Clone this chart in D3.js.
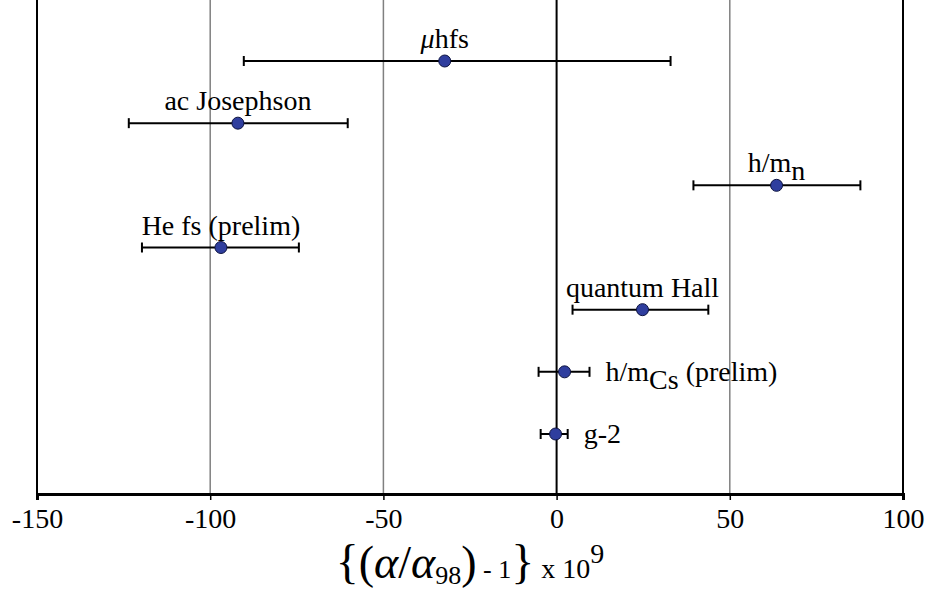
<!doctype html>
<html>
<head>
<meta charset="utf-8">
<script src="https://cdnjs.cloudflare.com/ajax/libs/d3/7.8.5/d3.min.js"></script>
<style>
  html, body { margin: 0; padding: 0; background: #fff; }
</style>
</head>
<body>
<div id="viz"></div>
<script>
// measurements, top to bottom
var labels = ["μhfs", "ac Josephson", "h/m_n", "He fs (prelim)", "quantum Hall", "h/m_Cs (prelim)", "g-2"];
var centers = [-32.3, -92.0, 63.5, -96.9, 24.8, 2.3, -0.3];
var lows    = [-90.3, -123.5, 39.5, -119.7, 4.6, -5.2, -4.6];
var highs   = [32.9, -60.3, 87.7, -74.4, 43.8, 9.5, 3.2];
var labelSide = ["top", "top", "top", "top", "top", "right", "right"];
var xTicks = [-150, -100, -50, 0, 50, 100];

var SERIF = "'Liberation Serif'";
var W = 925, H = 590;
var svg = d3.select("#viz").append("svg").attr("width", W).attr("height", H);

var x = d3.scaleLinear().domain([-150, 100]).range([37, 903]);
var y = d3.scaleLinear().domain([0, 6]).range([61, 434]);
var axisY = 494;

// gridlines
svg.selectAll("line.grid")
    .data([-100, -50, 50])
    .enter().append("line")
    .attr("x1", function (d) { return x(d); })
    .attr("x2", function (d) { return x(d); })
    .attr("y1", 0).attr("y2", axisY)
    .attr("stroke", "#808080").attr("stroke-width", 1.5);

// zero line and side borders
[0, -150, 100].forEach(function (v) {
    svg.append("line")
        .attr("x1", x(v)).attr("x2", x(v))
        .attr("y1", 0).attr("y2", axisY)
        .attr("stroke", "#000").attr("stroke-width", 2);
});

// x axis
var axis = d3.axisBottom(x).tickValues(xTicks).tickSize(6).tickPadding(7)
    .tickFormat(d3.format("d"));
var gx = svg.append("g").attr("transform", "translate(0," + axisY + ")").call(axis);
gx.select(".domain").attr("stroke", "#000").attr("stroke-width", 3);
gx.selectAll(".tick line").attr("stroke", "#000").attr("stroke-width", 1.5);
gx.selectAll(".tick text")
    .style("font-family", SERIF).style("font-size", "28px")
    .attr("fill", "#000").attr("dy", "0.75em")
    .text(function (d) { return d < 0 ? "-" + Math.abs(d) : d; });

// error bars
var rows = svg.selectAll("g.row")
    .data(labels.map(function (l, i) { return i; }))
    .enter().append("g").attr("class", "row");

rows.append("line")
    .attr("x1", function (i) { return x(lows[i]); })
    .attr("x2", function (i) { return x(highs[i]); })
    .attr("y1", function (i) { return y(i); })
    .attr("y2", function (i) { return y(i); })
    .attr("stroke", "#000").attr("stroke-width", 2);

[lows, highs].forEach(function (arr) {
    rows.append("line")
        .attr("x1", function (i) { return x(arr[i]); })
        .attr("x2", function (i) { return x(arr[i]); })
        .attr("y1", function (i) { return y(i) - 5; })
        .attr("y2", function (i) { return y(i) + 5; })
        .attr("stroke", "#000").attr("stroke-width", 2);
});

rows.append("circle")
    .attr("cx", function (i) { return x(centers[i]); })
    .attr("cy", function (i) { return y(i); })
    .attr("r", 6)
    .attr("fill", "#2f3e9e")
    .attr("stroke", "#0d1340").attr("stroke-width", 1);

// labels
rows.each(function (i) {
    var g = d3.select(this);
    var t = g.append("text")
        .style("font-family", SERIF).style("font-size", "28px").attr("fill", "#000");
    if (labelSide[i] === "top") {
        t.attr("x", x(centers[i])).attr("y", y(i) - 13).attr("text-anchor", "middle");
    } else {
        t.attr("x", x(highs[i]) + 16).attr("y", y(i) + 9).attr("text-anchor", "start");
    }
    var l = labels[i];
    if (l.indexOf("_") >= 0) {
        var parts = l.split("_");
        var sub = parts[1].split(" ")[0];
        var rest = parts[1].slice(sub.length);
        t.append("tspan").text(parts[0]);
        t.append("tspan").attr("dy", 8).text(sub);
        t.append("tspan").attr("dy", -8).text(rest);
    } else if (l.charAt(0) === "μ") {
        t.append("tspan").style("font-style", "italic").text("μ");
        t.append("tspan").text(l.slice(1));
    } else {
        t.text(l);
    }
});

// axis title
var title = svg.append("text").attr("x", 470).attr("y", 578)
    .attr("text-anchor", "middle").attr("fill", "#000")
    .style("font-family", SERIF).style("font-size", "26px");
function part(txt, size, opts) {
    var s = title.append("tspan").style("font-size", size + "px").text(txt);
    if (opts && opts.italic) s.style("font-style", "italic");
    if (opts && opts.dy) s.attr("dy", opts.dy);
    return s;
}
part("{", 48);
part("(", 46);
part("α", 46, { italic: true });
part("/", 46);
part("α", 46, { italic: true });
part("98", 26, { dy: 6 });
part(")", 46, { dy: -6 });
part(" - 1", 26);
part("}", 48);
part(" x 10", 28);
part("9", 28, { dy: -15 });
</script>
</body>
</html>
